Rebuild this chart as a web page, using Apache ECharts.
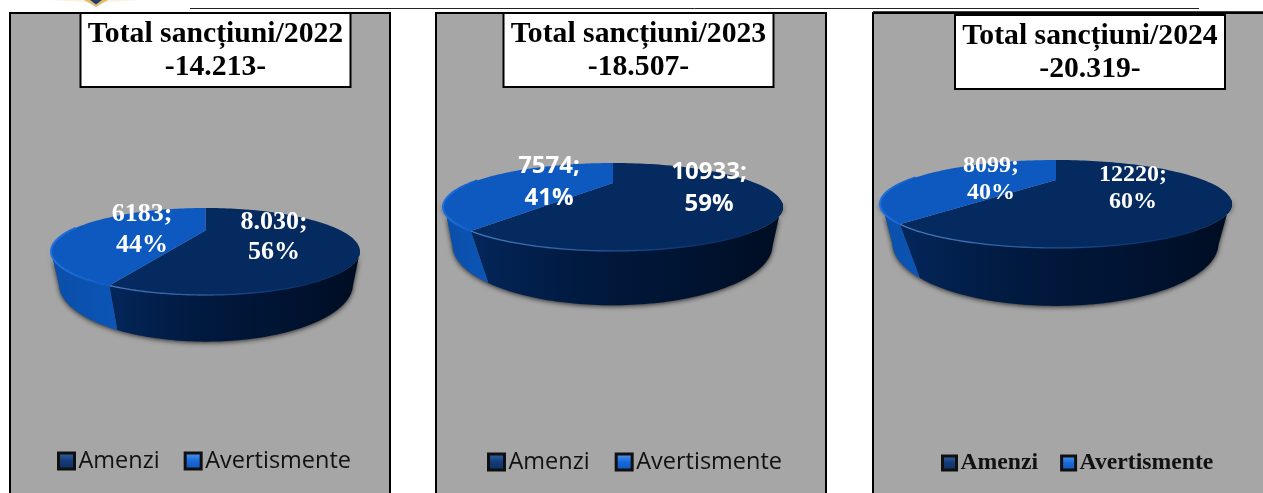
<!DOCTYPE html>
<html><head><meta charset="utf-8">
<style>html,body{margin:0;padding:0;background:#fff}#c{width:1263px;height:493px}</style>
<script src="https://cdn.jsdelivr.net/npm/echarts@6/dist/echarts.min.js"></script>
</head><body><div id="c"></div>
<script>
// ---- data ----
const years = ['2022', '2023', '2024'];
const categories = ['Amenzi', 'Avertismente'];
const amenzi = [8030, 10933, 12220];
const avertismente = [6183, 7574, 8099];
const totals = ['14.213', '18.507', '20.319'];
const amenziLabels = ['8.030', '10933', '12220'];
const avertismenteLabels = ['6183', '7574', '8099'];

// ---- layout ----
const SERIF = '"Liberation Serif","Times New Roman",serif';
const SANS = '"Open Sans","Noto Sans",sans-serif';
const BOT_P = 0.45, TITLE_PAD = 8;
const panels = [
  {x:10, w:380, boxCx:215.5, boxTop:13, cx:205.5, cy:230.6, rx:154.5, tp:0.48, tb:33.5, bcx:206, bcy:258, brx:147, bb:46,
   font:SERIF, fs:26, warn:[142,214,245], fine:[274,222,252], legend:{left:52,top:444,gap:24,fam:SANS,fs:23.5,size:16}},
  {x:436, w:390, boxCx:638.5, boxTop:13, cx:613, cy:183, rx:170, tp:0.545, tb:30.9, bcx:612.5, bcy:218, brx:160, bb:48,
   font:SANS, fs:24, warn:[549,166,198], fine:[709,172,204], legend:{left:482,top:445,gap:25,fam:SANS,fs:23.5,size:16}},
  {x:873, w:400, boxCx:1090, boxTop:15, cx:1056, cy:180, rx:176, tp:0.545, tb:30.9, bcx:1055.5, bcy:215, brx:163, bb:50,
   font:SERIF, fs:24, warn:[991,166,193], fine:[1133,175,202], legend:{left:936,top:446,gap:22,fam:SERIF,fs:23.7,size:14,bold:true}}
];
const G = echarts.graphic.LinearGradient;
const hGrad = (stops) => new G(0,0,1,0,stops.map((c,i)=>({offset:i/(stops.length-1),color:c})));
const vGrad = (stops) => new G(0,0,0,1,stops.map((c,i)=>({offset:i/(stops.length-1),color:c})));

// perspective projection of a point on the pie's circle (clock angle from 12 o'clock)
function topRim(p, t){
  const a = p.rx*Math.sqrt(1-p.tp*p.tp), u=Math.sin(t), v=Math.cos(t), d=1+p.tp*v;
  return [p.cx+a*u/d, p.cy-p.tb*v/d];
}
function botRim(p, t){
  const a = p.brx*Math.sqrt(1-BOT_P*BOT_P), u=Math.sin(t), v=Math.cos(t), d=1+BOT_P*v;
  return [p.bcx+a*u/d, p.bcy-p.bb*v/d];
}
function arc(fn,p,a,b){ const r=[],n=90; for(let i=0;i<=n;i++) r.push(fn(p,a+(b-a)*i/n)); return r; }
const rad = d=>d*Math.PI/180;
const SIDE_A = rad(118), SIDE_B = rad(242);

function renderSlice(isAmenzi){
  return function(params, api){
    const i=api.value(0), v=api.value(1), other=api.value(2), p=panels[i];
    const frac = v/(v+other), pct=Math.round(frac*100);
    const children=[];
    const TAU=Math.PI*2;
    // amenzi runs clockwise from 12 o'clock, avertismente closes the circle
    const split = isAmenzi ? frac*TAU : (1-frac)*TAU;
    const t0 = isAmenzi ? 0 : split, t1 = isAmenzi ? split : TAU;
    const s0 = isAmenzi ? SIDE_A : split, s1 = isAmenzi ? split : SIDE_B;
    if(isAmenzi){
      const shadow = arc(topRim,p,SIDE_A,SIDE_B).concat(arc(botRim,p,SIDE_B,SIDE_A));
      children.push({type:'polygon',shape:{points:shadow},style:{fill:'#555',shadowBlur:5,shadowColor:'rgba(0,0,0,0.75)',shadowOffsetY:1,shadowOffsetX:0}});
    }
    const side = arc(topRim,p,s0,s1).concat(arc(botRim,p,s1,s0));
    children.push({type:'polygon',shape:{points:side},style:{
      fill: isAmenzi ? hGrad(['#03265a','#011a40','#001433','#000d22']) : hGrad(['#0a4ea8','#0c55b6'])}});
    const face = [[p.cx,p.cy]].concat(arc(topRim,p,t0,t1));
    children.push({type:'polygon',shape:{points:face},style:{fill: isAmenzi ? '#052a60' : '#0d59bf'}});
    if(isAmenzi){
      children.push({type:'polyline',shape:{points:arc(topRim,p,rad(150),split)},
        style:{fill:null,lineWidth:1.3,stroke:hGrad(['#4a7cbc','#3463a3','#143f80','#052a60'])}});
    } else {
      children.push({type:'polyline',shape:{points:arc(topRim,p,split,rad(275))},
        style:{fill:null,lineWidth:2,stroke:hGrad(['#2273e0','#1a66cf','#0f5bc2'])}});
    }
    const pos = isAmenzi ? p.fine : p.warn;
    const label = (isAmenzi ? amenziLabels : avertismenteLabels)[i];
    const txt=(s,y)=>({type:'text',style:{text:s,x:pos[0],y:y,fill:'#fff',align:'center',verticalAlign:'middle',
      font:`bold ${p.fs}px ${p.font}`}});
    children.push(txt(label+';',pos[1]));
    children.push(txt(pct+'%',pos[2]));
    return {type:'group',children};
  };
}

const chart = echarts.init(document.getElementById('c'),null,{renderer:'canvas'});
const swatch = {
  Amenzi:{color:vGrad(['#3a6aa8','#143a78','#0e2e62']),borderColor:'#101010',borderWidth:3},
  Avertismente:{color:vGrad(['#5aa0f0','#1a68d8','#0f56bc']),borderColor:'#101010',borderWidth:3}
};
chart.setOption({
  animation:false,
  backgroundColor:'#fff',
  graphic:[
    {type:'polygon',z:0,shape:{points:[[50,0],[140,0],[96,3]]},style:{fill:'#fbf4e2'}},
    {type:'polygon',z:0,shape:{points:[[84,0],[108,0],[96,7]]},style:{fill:'#e5bd6a'}},
    {type:'polygon',z:0,shape:{points:[[90,0],[102,0],[96,4.5]]},style:{fill:'#1e3e70'}},
    {type:'line',z:0,shape:{x1:190,y1:8.5,x2:1199,y2:8.5},style:{stroke:'#222',lineWidth:1}},
    {type:'line',z:0,shape:{x1:873,y1:12,x2:1263,y2:12},style:{stroke:'#000',lineWidth:1.5}},
    ...panels.map(p=>({type:'rect',z:0,shape:{x:p.x,y:13,width:p.w,height:500},style:{fill:'#a6a6a6',stroke:'#000',lineWidth:2}}))
  ],
  title: panels.map((p,i)=>({
    text:`Total sancțiuni/${years[i]}\n-${totals[i]}-`,
    left:p.boxCx-TITLE_PAD, top:p.boxTop,
    textAlign:'center',
    padding:[5,TITLE_PAD,3,TITLE_PAD],
    backgroundColor:'#fff',borderColor:'#000',borderWidth:2,
    textStyle:{fontFamily:SERIF,fontWeight:'bold',fontSize:29.7,lineHeight:33,color:'#000'},
    z:5
  })),
  legend: panels.map(p=>({
    left:p.legend.left, top:p.legend.top, orient:'horizontal',
    itemWidth:p.legend.size, itemHeight:p.legend.size, itemGap:p.legend.gap, selectedMode:false,
    icon:'rect',
    data:categories.map(c=>({name:c,icon:'rect',itemStyle:swatch[c]})),
    textStyle:{fontFamily:p.legend.fam,fontSize:p.legend.fs,color:'#111',fontWeight:p.legend.bold?'bold':'normal',padding:[0,0,0,-1]}
  })),
  series:[
    {type:'custom',name:categories[0],coordinateSystem:'none',z:2,itemStyle:{color:'#052a60'},
     renderItem:renderSlice(true),
     data:amenzi.map((v,i)=>[i,v,avertismente[i]])},
    {type:'custom',name:categories[1],coordinateSystem:'none',z:3,itemStyle:{color:'#0d59bf'},
     renderItem:renderSlice(false),
     data:avertismente.map((v,i)=>[i,v,amenzi[i]])}
  ]
});
</script></body></html>
